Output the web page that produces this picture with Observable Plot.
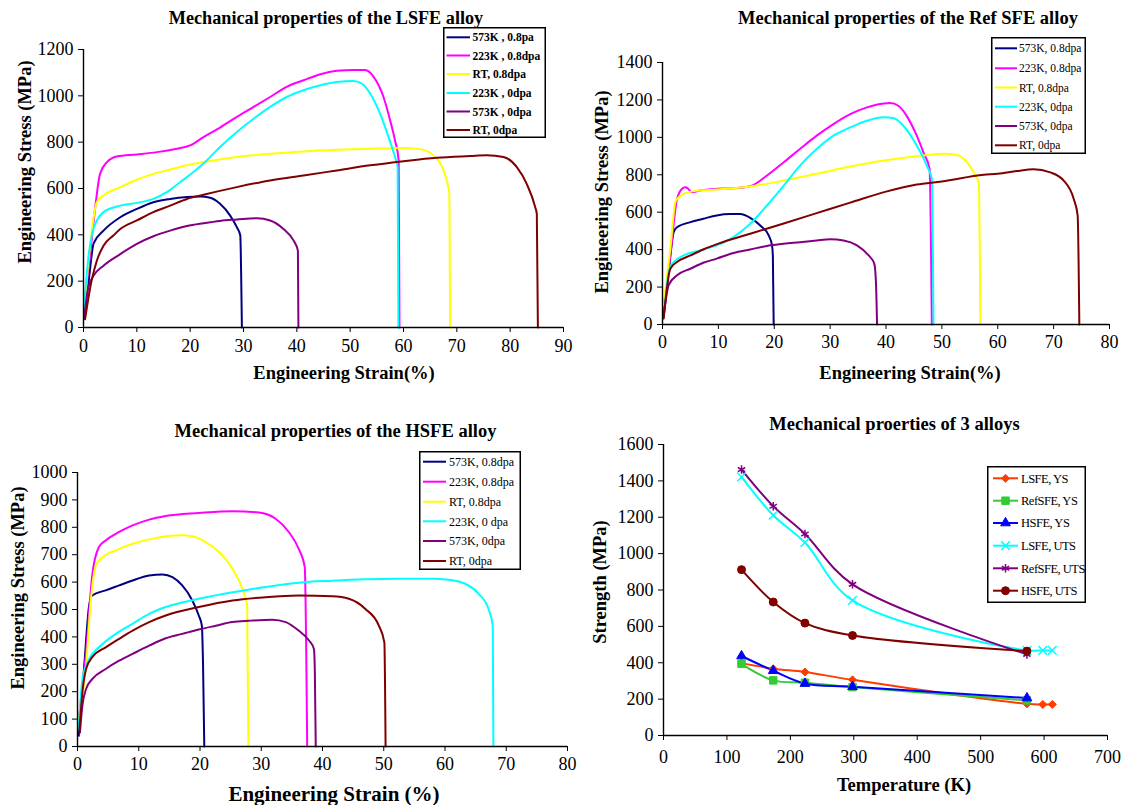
<!DOCTYPE html>
<html><head><meta charset="utf-8">
<script src="https://cdn.jsdelivr.net/npm/d3@7"></script>
<script src="https://cdn.jsdelivr.net/npm/@observablehq/plot@0.6"></script>
<style>
html,body{margin:0;padding:0;background:#fff;}
#root{position:relative;width:1124px;height:805px;background:#fff;overflow:hidden;}
.lbl{position:absolute;white-space:nowrap;line-height:1;color:#000;font-family:'Liberation Serif','Times New Roman',serif;}
#root svg text{font-family:'Liberation Serif','Times New Roman',serif;}
</style></head>
<body><div id="root"></div>
<script>
// ---------- DATA: [strain %, stress MPa] ----------
// LSFE alloy
const lsfe_573K_08 = [[0.1,43],[1.0,206],[1.9,363],[3.75,418],[6.9,476],[10,512],[13.1,541],[16.25,555],[19.4,563],[21.9,565],[23.75,560],[25.6,534],[27.5,483],[28.75,433],[29.4,397],[29.55,245],[29.7,0]];
const lsfe_223K_08 = [[0.1,90],[1.25,317],[2.2,519],[3.1,663],[4.4,714],[6.25,738],[10,747],[13.75,757],[17.5,772],[20,786],[22.5,822],[25.6,863],[28.75,909],[31.9,952],[35,995],[38.1,1039],[41.25,1067],[44.4,1093],[47.5,1108],[50.6,1112],[52.8,1111],[54.4,1082],[56.25,995],[57.5,894],[58.4,808],[59.1,721],[59.25,0]];
const lsfe_RT_08 = [[0.1,72],[1.0,300],[1.9,476],[2.5,541],[3.75,570],[6.9,606],[10,638],[13.1,663],[16.25,682],[19.4,700],[22.5,714],[28.75,736],[35,750],[41.25,760],[47.5,767],[53.75,772],[60,775],[63.1,770],[65.6,743],[67.5,678],[68.4,606],[68.6,577],[68.75,0]];
const lsfe_223K_0 = [[0.1,86],[0.9,300],[1.6,404],[2.5,462],[3.75,498],[6.9,526],[10,538],[13.1,555],[15.6,584],[18.1,627],[20.6,671],[23.1,721],[25.6,779],[28.75,844],[31.9,901],[35,952],[38.1,995],[41.25,1024],[44.4,1046],[47.5,1060],[50.6,1064],[52.2,1053],[53.75,1010],[55.6,923],[57.2,822],[58.4,736],[58.9,692],[59.05,0]];
const lsfe_573K_0 = [[0.1,36],[0.9,173],[1.9,224],[3.75,267],[6.9,317],[10,361],[13.1,394],[16.25,418],[19.4,438],[22.5,450],[25.6,460],[28.75,466],[32.5,472],[35,462],[37.5,425],[39.4,375],[40.2,332],[40.3,0]];
const lsfe_RT_0 = [[0.3,36],[1.5,200],[2.5,288],[3.75,353],[5.6,397],[6.9,425],[10,462],[13.1,498],[16.25,526],[19.4,555],[22.5,573],[28.75,606],[35,635],[41.25,656],[47.5,678],[53.75,700],[60,718],[66.25,733],[72.5,740],[75.6,743],[78.75,736],[81.25,692],[83.1,620],[84.7,519],[85.0,490],[85.2,0]];
// Ref SFE alloy
const ref_573K_08 = [[0.2,50],[1.1,281],[2.0,494],[2.6,520],[5,547],[7.3,565],[9.7,583],[12.1,590],[13.9,590],[15.7,570],[17.5,529],[19,476],[19.6,423],[19.75,369],[19.9,0]];
const ref_223K_08 = [[0.2,85],[1.4,369],[2.6,671],[3.5,725],[4.1,734],[4.6,725],[5.25,707],[6.7,716],[9.7,725],[12.7,728],[15.7,739],[18.7,796],[21.7,867],[24.6,938],[27.6,1009],[30.6,1071],[33.6,1124],[36.6,1160],[39.6,1181],[40.75,1183],[42.2,1169],[43.7,1115],[45.5,1009],[46.7,920],[47.8,831],[48.2,0]];
const ref_RT_08 = [[0.2,103],[1.4,405],[2.3,654],[2.9,680],[3.8,698],[6.7,716],[9.7,721],[15.7,737],[21.7,769],[27.6,805],[33.6,844],[39.6,876],[45.5,899],[50.3,913],[52.7,906],[54.5,867],[56,796],[56.6,760],[56.9,0]];
const ref_223K_0 = [[0.2,32],[0.6,150],[1.1,281],[2.0,334],[3.8,369],[6.7,396],[9.7,423],[12.7,467],[15.7,538],[18.7,636],[21.7,742],[24.6,849],[27.6,938],[30.6,1009],[33.6,1053],[36.6,1089],[39.6,1107],[41.3,1103],[43.1,1062],[45.5,956],[47.3,849],[48.2,778],[48.5,0]];
const ref_573K_0 = [[0.2,41],[1.1,210],[2.6,263],[5,298],[7.3,330],[9.7,352],[12.7,382],[15.7,401],[19.3,423],[21.7,432],[24.6,440],[27.6,449],[30,455],[32.4,449],[34.8,423],[36.9,369],[37.9,325],[38.2,227],[38.4,0]];
const ref_RT_0 = [[0.2,32],[1.4,298],[2.6,334],[5,369],[7.3,401],[10,432],[15.7,485],[21.7,540],[27.6,595],[33.6,651],[40,710],[45.5,748],[50,764],[57.5,800],[60,805],[63.4,820],[66.4,830],[69.4,813],[71.8,769],[73.6,671],[74.3,583],[74.6,0]];
// HSFE alloy
const hsfe_573K_08 = [[0.2,39],[1.1,295],[1.9,515],[2.4,551],[4.6,570],[6.8,588],[9,606],[11.7,624],[13.9,628],[15.5,618],[17.1,588],[18.75,533],[19.8,478],[20.3,441],[20.5,295],[20.7,0]];
const hsfe_223K_08 = [[0.2,100],[1.4,344],[2.4,624],[3.5,728],[4.6,752],[6.8,783],[9,807],[11.7,828],[14.4,841],[19.8,852],[25.3,859],[29.6,854],[32.3,832],[34.5,783],[36.1,722],[37.1,655],[37.5,0]];
const hsfe_RT_08 = [[0.2,100],[1.4,295],[2.2,539],[3,661],[4.1,691],[6.25,716],[9,740],[11.7,756],[14.4,767],[17.1,771],[18.75,767],[20.9,746],[23.1,710],[25.3,649],[26.9,576],[27.7,515],[27.9,0]];
const hsfe_223K_0 = [[0.2,63],[0.8,246],[1.9,320],[3.5,362],[6.25,411],[9,448],[11.7,484],[14.4,509],[19.8,539],[25.3,563],[30.7,582],[36.1,598],[41.6,605],[47,610],[52.4,612],[57.9,612],[60.6,609],[63.3,594],[65.5,557],[67.1,502],[67.8,441],[67.9,0]];
const hsfe_573K_0 = [[0.4,51],[0.8,149],[1.4,210],[2.4,246],[4.6,283],[6.8,313],[9,338],[11.7,368],[14.4,395],[17.1,411],[19.8,427],[22.6,441],[25.3,454],[28,459],[31.8,463],[34,454],[36.1,423],[37.8,387],[38.6,356],[38.75,271],[38.9,0]];
const hsfe_RT_0 = [[0.3,51],[0.8,198],[1.4,283],[2.4,326],[4.6,362],[6.8,393],[9,423],[11.7,454],[14.4,478],[19.8,509],[25.3,533],[30.7,545],[36.1,551],[41.6,548],[44.3,539],[47,502],[49.2,441],[50.1,380],[50.3,0]];
// 3 alloys: temperature (K) vs strength (MPa)
const tempsLSFE = [123,173,223,298,573,598,613];
const tempsOther = [123,173,223,298,573];
const lsfeYS = [398,367,349,306,174,171,171];
const refYS = [394,303,290,266,193];
const hsfeYS = [437,356,286,268,206];
const lsfeUTS = [1422,1211,1061,743,468,468,468];
const refUTS = [1462,1261,1108,831,446];
const hsfeUTS = [912,734,618,550,464];

// legend labels
const lsfeLabels = ["573K , 0.8pa","223K , 0.8dpa","RT, 0.8dpa","223K , 0dpa","573K , 0dpa","RT, 0dpa"];
const refLabels = ["573K, 0.8dpa","223K, 0.8dpa","RT, 0.8dpa","223K, 0dpa","573K, 0dpa","RT, 0dpa"];
const hsfeLabels = ["573K, 0.8dpa","223K, 0.8dpa","RT, 0.8dpa","223K, 0 dpa","573K, 0dpa","RT, 0dpa"];
const strengthLabels = ["LSFE, YS","RefSFE, YS","HSFE, YS","LSFE, UTS","RefSFE, UTS","HSFE, UTS"];

// ---------- STYLE ----------
const curveColors = ["#000080","#ff00ff","#ffff00","#00ffff","#800080","#800000"];
const strengthColors = ["#ff3c00","#33cc33","#0000ff","#00ffff","#800080","#800000"];
const strengthSymbols = ["diamond2","square","triangle","times","asterisk","circle"];
const strengthR = [3.6,4.2,3.6,4,4,4];
const SERIF = "Liberation Serif, Times New Roman, serif";
const root = document.getElementById("root");

function txt(text, cx, cy, size, bold, rot) {
  const d = document.createElement("div");
  d.className = "lbl";
  d.textContent = text;
  d.style.left = cx + "px"; d.style.top = cy + "px";
  d.style.fontSize = size + "px";
  d.style.fontWeight = bold ? "bold" : "normal";
  d.style.transform = "translate(-50%,-50%)" + (rot ? " rotate(-90deg)" : "");
  root.appendChild(d);
}

function panel(o) {
  const marks = [
    Plot.axisX({ticks: o.xTicks, tickSize: 5, tickPadding: o.xPad, tickFormat: d => String(d), label: null, fontSize: 18, fontFamily: SERIF}),
    Plot.axisY({ticks: o.yTicks, tickSize: 5, tickPadding: o.yPad, tickFormat: d => String(d), label: null, fontSize: 18, fontFamily: SERIF}),
    ...o.marks,
    Plot.ruleX([0], {stroke: "#000", strokeWidth: 1.4}),
    Plot.ruleY([0], {stroke: "#000", strokeWidth: 1.4})
  ];
  const svg = Plot.plot({
    width: o.width, height: o.height,
    marginLeft: o.ml, marginRight: o.mr, marginTop: o.mt, marginBottom: o.mb,
    x: {domain: o.xDomain}, y: {domain: o.yDomain},
    style: {fontFamily: SERIF, fontSize: "18px", color: "#000", background: "transparent", overflow: "visible"},
    marks
  });
  svg.setAttribute("font-family", SERIF);
  svg.style.position = "absolute";
  svg.style.left = o.left + "px"; svg.style.top = o.top + "px";
  root.appendChild(svg);
}

function curveMarks(series) {
  return series.map((s, i) => Plot.line(s, {x: d => d[0], y: d => d[1], stroke: curveColors[i], strokeWidth: 2, curve: "monotone-x"}));
}

function legend(o) {
  const svg = d3.select(root).append("svg")
    .style("position", "absolute").style("left", o.x + "px").style("top", o.y + "px")
    .attr("width", o.w).attr("height", o.h).style("overflow", "visible");
  svg.append("rect").attr("x", 0.75).attr("y", 0.75).attr("width", o.w - 1.5).attr("height", o.h - 1.5)
    .attr("fill", "#fff").attr("stroke", "#000").attr("stroke-width", 1.5);
  o.labels.forEach((lab, i) => {
    const y = o.rows[i] - o.y;
    svg.append("line").attr("x1", o.l0 - o.x).attr("x2", o.l1 - o.x).attr("y1", y).attr("y2", y)
      .attr("stroke", o.colors[i]).attr("stroke-width", 2);
    if (o.symbols) {
      const r = strengthR[i];
      const type = {diamond2: d3.symbolDiamond2, square: d3.symbolSquare, triangle: d3.symbolTriangle,
        times: d3.symbolTimes, asterisk: d3.symbolAsterisk, circle: d3.symbolCircle}[o.symbols[i]];
      const stroked = o.symbols[i] === "times" || o.symbols[i] === "asterisk";
      svg.append("path").attr("d", d3.symbol().type(type).size(Math.PI * r * r)())
        .attr("transform", `translate(${(o.l0 + o.l1) / 2 - o.x},${y})`)
        .attr("fill", stroked ? "none" : o.colors[i]).attr("stroke", o.colors[i]).attr("stroke-width", stroked ? 1.5 : 1);
    }
    svg.append("text").attr("x", o.tx - o.x).attr("y", y).attr("dy", "0.35em")
      .style("font-family", SERIF).attr("font-size", o.size).attr("font-weight", o.bold ? "bold" : "normal")
      .attr("letter-spacing", o.ls || 0).attr("fill", "#000").text(lab);
  });
}

// ---------- PANEL 1: LSFE ----------
panel({left: 0, top: 0, width: 580, height: 400, ml: 83, mr: 17, mt: 49, mb: 73,
  xDomain: [0, 90], xTicks: d3.range(0, 91, 10), yDomain: [0, 1200], yTicks: d3.range(0, 1201, 200), xPad: 7, yPad: 5,
  marks: curveMarks([lsfe_573K_08, lsfe_223K_08, lsfe_RT_08, lsfe_223K_0, lsfe_573K_0, lsfe_RT_0])});
txt("Mechanical properties of the LSFE alloy", 326, 18, 18.2, true);
txt("Engineering Stress (MPa)", 25, 162, 18.5, true, true);
txt("Engineering Strain(%)", 344, 373, 18.5, true);
legend({x: 443, y: 27, w: 103, h: 111, rows: [37.3, 55.5, 74, 93, 111.5, 130], l0: 446.5, l1: 470, tx: 472.5,
  size: 11.5, bold: true, labels: lsfeLabels, colors: curveColors});

// ---------- PANEL 2: Ref SFE ----------
panel({left: 580, top: 0, width: 544, height: 400, ml: 82, mr: 15, mt: 62, mb: 76,
  xDomain: [0, 80], xTicks: d3.range(0, 81, 10), yDomain: [0, 1400], yTicks: d3.range(0, 1401, 200), xPad: 6, yPad: 5,
  marks: curveMarks([ref_573K_08, ref_223K_08, ref_RT_08, ref_223K_0, ref_573K_0, ref_RT_0])});
txt("Mechanical properties of the Ref SFE alloy", 908, 18, 18.5, true);
txt("Engineering Stress (MPa)", 602, 192, 18.5, true, true);
txt("Engineering Strain(%)", 910, 373, 18.5, true);
legend({x: 991, y: 37, w: 95, h: 117, rows: [48.3, 68.3, 87.5, 106.7, 126, 145.3], l0: 995, l1: 1017, tx: 1019,
  size: 11.5, bold: false, labels: refLabels, colors: curveColors});

// ---------- PANEL 3: HSFE ----------
panel({left: 0, top: 400, width: 580, height: 405, ml: 77, mr: 13, mt: 72, mb: 59,
  xDomain: [0, 80], xTicks: d3.range(0, 81, 10), yDomain: [0, 1000], yTicks: d3.range(0, 1001, 100), xPad: 6, yPad: 5,
  marks: curveMarks([hsfe_573K_08, hsfe_223K_08, hsfe_RT_08, hsfe_223K_0, hsfe_573K_0, hsfe_RT_0])});
txt("Mechanical properties of the HSFE alloy", 335.5, 431, 18.5, true);
txt("Engineering Stress (MPa)", 18, 588, 18.5, true, true);
txt("Engineering Strain (%)", 334, 794, 21, true);
legend({x: 419, y: 451, w: 102, h: 119, rows: [461.7, 481.7, 501.7, 521.3, 541, 561], l0: 423, l1: 446, tx: 449,
  size: 12, bold: false, labels: hsfeLabels, colors: curveColors});

// ---------- PANEL 4: 3 alloys ----------
const strengthSeries = [
  [tempsLSFE, lsfeYS], [tempsOther, refYS], [tempsOther, hsfeYS],
  [tempsLSFE, lsfeUTS], [tempsOther, refUTS], [tempsOther, hsfeUTS]
].map(([t, v]) => t.map((k, i) => ({t: k, v: v[i]})));
const p4marks = [];
strengthSeries.forEach((s, i) => p4marks.push(Plot.line(s, {x: "t", y: "v", stroke: strengthColors[i], strokeWidth: 2, curve: "catmull-rom"})));
strengthSeries.forEach((s, i) => {
  const stroked = strengthSymbols[i] === "times" || strengthSymbols[i] === "asterisk";
  p4marks.push(Plot.dot(s, {x: "t", y: "v", symbol: strengthSymbols[i], r: strengthR[i],
    fill: stroked ? "none" : strengthColors[i], stroke: strengthColors[i], strokeWidth: stroked ? 1.5 : 1}));
});
panel({left: 580, top: 400, width: 544, height: 405, ml: 83, mr: 17, mt: 44, mb: 70,
  xDomain: [0, 700], xTicks: d3.range(0, 701, 100), yDomain: [0, 1600], yTicks: d3.range(0, 1601, 200), xPad: 10, yPad: 5,
  marks: p4marks});
txt("Mechanical proerties of 3 alloys", 894.5, 424, 18.5, true);
txt("Strength (MPa)", 600, 582, 18.5, true, true);
txt("Temperature (K)", 904, 785, 18.5, true);
legend({x: 987, y: 466, w: 99, h: 137, rows: [478.3, 500.7, 523, 545.7, 568.3, 590.7], l0: 993, l1: 1018, tx: 1021,
  size: 12.5, bold: false, ls: -0.5, labels: strengthLabels, colors: strengthColors, symbols: strengthSymbols});
</script></body></html>
